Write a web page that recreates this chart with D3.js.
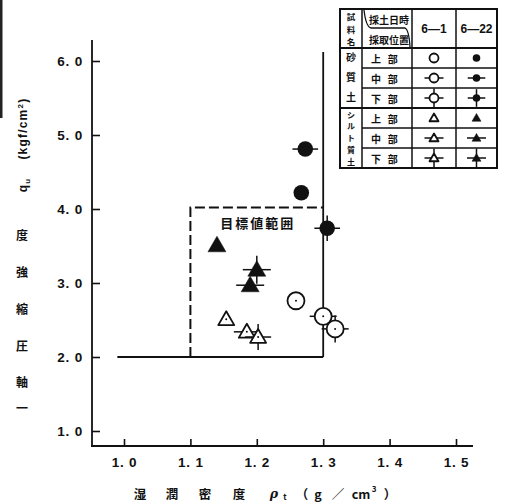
<!DOCTYPE html>
<html>
<head>
<meta charset="utf-8">
<script src="https://cdn.jsdelivr.net/npm/d3@7"></script>
<style>
  body { margin: 0; background: #fff; }
  svg { display: block; }
  text { fill: #111; }
</style>
</head>
<body>
<div id="chart"></div>
<script>
// values
var positions = ["上部", "中部", "下部"];
var sand61  = [[1.259, 2.76], [1.300, 2.55], [1.318, 2.38]];
var sand622 = [[1.267, 4.22], [1.273, 4.81], [1.306, 3.74]];
var silt61  = [[1.154, 2.51], [1.185, 2.34], [1.202, 2.27]];
var silt622 = [[1.140, 3.51], [1.190, 2.97], [1.200, 3.18]];
var xTicks = [1.0, 1.1, 1.2, 1.3, 1.4, 1.5];
var yTicks = [1.0, 2.0, 3.0, 4.0, 5.0, 6.0];
var targetBox = { x0: 1.1, x1: 1.3, y0: 2.0, y1: 4.02 };
var limitLines = { y: 2.0, xFrom: 0.99, x: 1.3, yTo: 6.12 };

var W = 509, H = 503;
var svg = d3.select("#chart").append("svg")
    .attr("width", W).attr("height", H);

var x = d3.scaleLinear().domain([1.0, 1.5]).range([124, 456]);
var y = d3.scaleLinear().domain([1.0, 6.0]).range([431, 61]);

var fmt = function(d) { return d3.format(".1f")(d).replace(".", ". "); };
var tickFont = "'Liberation Sans', sans-serif";

// axes
var yAxis = svg.append("g").attr("transform", "translate(92,0)")
    .call(d3.axisLeft(y).tickValues(yTicks).tickFormat(fmt)
        .tickSizeInner(-8).tickSizeOuter(0).tickPadding(9));
var xAxis = svg.append("g").attr("transform", "translate(0,446)")
    .call(d3.axisBottom(x).tickValues(xTicks).tickFormat(fmt)
        .tickSizeInner(-7).tickSizeOuter(0).tickPadding(11));
[yAxis, xAxis].forEach(function(g) {
    g.select(".domain").remove();
    g.selectAll(".tick line").attr("stroke", "#111").attr("stroke-width", 1.6);
    g.selectAll(".tick text").attr("font-family", tickFont).attr("xml:space", "preserve")
        .attr("font-size", 13.5).attr("font-weight", "bold").attr("letter-spacing", 0.8)
        .attr("fill", "#111");
});
svg.append("line").attr("x1", 92).attr("x2", 92).attr("y1", 40).attr("y2", 447)
    .attr("stroke", "#111").attr("stroke-width", 1.8);
svg.append("line").attr("x1", 91).attr("x2", 473).attr("y1", 446).attr("y2", 446)
    .attr("stroke", "#111").attr("stroke-width", 1.8);

// scan edge at far left
svg.append("rect").attr("x", 0).attr("y", 0).attr("width", 2.5).attr("height", 118).attr("fill", "#222");

// limit lines and target range
svg.append("line")
    .attr("x1", x(limitLines.xFrom)).attr("x2", x(limitLines.x))
    .attr("y1", y(limitLines.y)).attr("y2", y(limitLines.y))
    .attr("stroke", "#111").attr("stroke-width", 1.8);
svg.append("line")
    .attr("x1", x(limitLines.x)).attr("x2", x(limitLines.x))
    .attr("y1", y(limitLines.y)).attr("y2", y(limitLines.yTo))
    .attr("stroke", "#111").attr("stroke-width", 1.8);
svg.append("path")
    .attr("d", "M" + x(targetBox.x0) + "," + y(targetBox.y0) +
               "V" + y(targetBox.y1) + "H" + x(targetBox.x1))
    .attr("fill", "none").attr("stroke", "#111").attr("stroke-width", 2)
    .attr("stroke-dasharray", "10,4");
svg.append("text").attr("x", (x(targetBox.x0) + x(targetBox.x1)) / 2 + 1).attr("y", 228)
    .attr("text-anchor", "middle").attr("font-family", "'Noto Sans CJK JP'")
    .attr("font-size", 13).attr("font-weight", "bold").attr("letter-spacing", 2)
    .text("目標値範囲");

// markers
function marker(g, shape, filled, pos, s, dot) {
    // pos: 0 upper, 1 middle (horizontal bar), 2 lower (cross)
    var ext = s + 5;
    if (pos >= 1) g.append("line").attr("x1", -ext).attr("x2", ext).attr("y1", 0).attr("y2", 0)
        .attr("stroke", "#111").attr("stroke-width", 1.5);
    if (pos === 2) g.append("line").attr("y1", -ext).attr("y2", ext).attr("x1", 0).attr("x2", 0)
        .attr("stroke", "#111").attr("stroke-width", 1.5);
    if (shape === "circle") {
        g.append("circle").attr("r", s)
            .attr("fill", filled ? "#111" : "#fff")
            .attr("stroke", "#111").attr("stroke-width", filled ? 0 : 1.8);
    } else {
        var area = (2 * s) * (2 * s) * Math.sqrt(3) / 4;
        g.append("path").attr("d", d3.symbol(d3.symbolTriangle, area)())
            .attr("transform", "translate(0," + (s * 0.15) + ")")
            .attr("fill", filled ? "#111" : "#fff")
            .attr("stroke", "#111").attr("stroke-width", filled ? 0.5 : 1.8)
            .attr("stroke-linejoin", "round");
    }
    if (dot && !filled) g.append("circle").attr("r", 1).attr("fill", "#111");
}

var series = [
    { data: sand61, shape: "circle", filled: false, s: 8.5 },
    { data: sand622, shape: "circle", filled: true, s: 7.8 },
    { data: silt61, shape: "triangle", filled: false, s: 8 },
    { data: silt622, shape: "triangle", filled: true, s: 9 }
];
series.forEach(function(se) {
    svg.append("g").selectAll("g").data(se.data).enter().append("g")
        .attr("transform", function(d) { return "translate(" + x(d[0]) + "," + y(d[1]) + ")"; })
        .each(function(d, i) { marker(d3.select(this), se.shape, se.filled, i, se.s, true); });
});

// legend table
var cx = [340, 362, 412, 456, 497];
var ry = [9, 48, 68, 88, 108, 128, 148, 168];
var lg = svg.append("g");
var cjk = "'Noto Sans CJK JP'";
lg.append("rect").attr("x", cx[0]).attr("y", ry[0]).attr("width", cx[4] - cx[0]).attr("height", ry[7] - ry[0])
    .attr("fill", "#fff").attr("stroke", "#111").attr("stroke-width", 2);
[1, 2, 3].forEach(function(i) {
    lg.append("line").attr("x1", cx[i]).attr("x2", cx[i]).attr("y1", ry[0]).attr("y2", ry[7])
        .attr("stroke", "#111").attr("stroke-width", 1.5);
});
[1, 4].forEach(function(j) {
    lg.append("line").attr("x1", cx[0]).attr("x2", cx[4]).attr("y1", ry[j]).attr("y2", ry[j])
        .attr("stroke", "#111").attr("stroke-width", 1.8);
});
[2, 3, 5, 6].forEach(function(j) {
    lg.append("line").attr("x1", cx[1]).attr("x2", cx[4]).attr("y1", ry[j]).attr("y2", ry[j])
        .attr("stroke", "#111").attr("stroke-width", 1.3);
});
// header
lg.append("path").attr("d", "M364,10 Q366,27 371,28 H405 Q409,30 410,47")
    .attr("fill", "none").attr("stroke", "#111").attr("stroke-width", 1.3);
function vtext(chars, xc, y0, step, size) {
    chars.split("").forEach(function(c, i) {
        lg.append("text").attr("x", xc).attr("y", y0 + i * step).attr("text-anchor", "middle")
            .attr("dominant-baseline", "central").attr("font-family", cjk)
            .attr("font-size", size).attr("font-weight", "bold").text(c);
    });
}
vtext("試料名", 351, 16, 12.5, 8.5);
vtext("砂質土", 351, 56, 20, 10);
vtext("シルト質土", 351, 114, 11.8, 8);
lg.append("text").attr("x", 389).attr("y", 19).attr("text-anchor", "middle").attr("dominant-baseline", "central")
    .attr("font-family", cjk).attr("font-size", 10).attr("font-weight", "bold").text("採土日時");
lg.append("text").attr("x", 389).attr("y", 39).attr("text-anchor", "middle").attr("dominant-baseline", "central")
    .attr("font-family", cjk).attr("font-size", 10).attr("font-weight", "bold").text("採取位置");
var dates = ["6—1", "6—22"];
dates.forEach(function(dt, i) {
    lg.append("text").attr("x", (cx[i + 2] + cx[i + 3]) / 2).attr("y", 29).attr("text-anchor", "middle")
        .attr("dominant-baseline", "central").attr("font-family", "'Liberation Sans'")
        .attr("font-size", 12).attr("font-weight", "bold").text(dt);
});
var legendRows = [];
["circle", "triangle"].forEach(function(shape) {
    positions.forEach(function(p, i) { legendRows.push({ shape: shape, label: p, pos: i }); });
});
legendRows.forEach(function(r, k) {
    var yc = (ry[k + 1] + ry[k + 2]) / 2;
    lg.append("text").attr("x", 371).attr("y", yc).attr("dominant-baseline", "central")
        .attr("font-family", cjk).attr("font-size", 10).attr("font-weight", "bold")
        .attr("xml:space", "preserve").text(r.label.split("").join("   "));
    [false, true].forEach(function(filled, c) {
        var g = lg.append("g").attr("transform", "translate(" + ((cx[c + 2] + cx[c + 3]) / 2) + "," + yc + ")");
        var s = r.shape === "circle" ? (filled ? 3.8 : 4.5) : 4.5;
        marker(g, r.shape, filled, r.pos, s, false);
    });
});

// axis titles
var yChars = ["一", "軸", "圧", "縮", "強", "度"];
var yCharPos = [407, 381, 345, 308, 271, 234];
yChars.forEach(function(c, i) {
    svg.append("text").attr("x", 22).attr("y", yCharPos[i]).attr("text-anchor", "middle")
        .attr("dominant-baseline", "central").attr("font-family", cjk)
        .attr("font-size", 12).attr("font-weight", "bold").text(c);
});
var yUnit = svg.append("text").attr("transform", "translate(27,145) rotate(-90)")
    .attr("text-anchor", "middle").attr("font-family", "'Liberation Sans'")
    .attr("font-size", 12).attr("font-weight", "bold").attr("letter-spacing", 1.2)
    .attr("xml:space", "preserve");
yUnit.append("tspan").text("q");
yUnit.append("tspan").attr("font-size", 8).attr("dy", 3).text("u");
yUnit.append("tspan").attr("dy", -3).text("    (kgf/cm");
yUnit.append("tspan").attr("font-size", 8).attr("dy", -4).text("2");
yUnit.append("tspan").attr("dy", 4).text(")");

// x title, character positions spread as in the figure
var xParts = [
    { t: "湿", x: 140 }, { t: "潤", x: 172 }, { t: "密", x: 205 }, { t: "度", x: 239 },
    { t: "ρ", x: 274, serif: true }, { t: "t", x: 285, small: true },
    { t: "（", x: 302 }, { t: "g", x: 318 }, { t: "／", x: 338 }, { t: "cm", x: 361 },
    { t: "3", x: 374, sup: true }, { t: "）", x: 390 }
];
xParts.forEach(function(p) {
    svg.append("text").attr("x", p.x).attr("y", p.sup ? 488 : (p.small ? 496 : 493))
        .attr("text-anchor", "middle").attr("dominant-baseline", "central")
        .attr("font-family", p.serif ? "'DejaVu Serif'" : cjk)
        .attr("font-style", p.serif ? "italic" : null)
        .attr("font-size", p.sup || p.small ? 8 : 12.5).attr("font-weight", "bold").text(p.t);
});
</script>
</body>
</html>
